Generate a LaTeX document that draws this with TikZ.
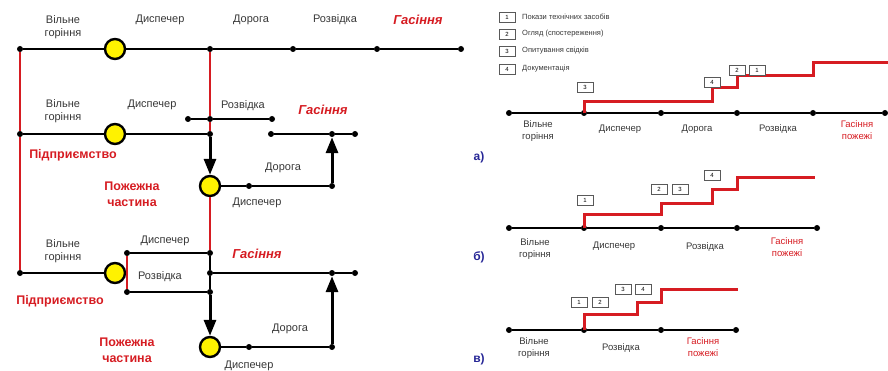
\documentclass[tikz,border=0pt]{standalone}
\usepackage{fontspec}
\setmainfont{Liberation Sans}
\usetikzlibrary{arrows.meta}
\definecolor{firered}{RGB}{214,28,34}
\definecolor{textgray}{RGB}{55,55,55}
\definecolor{markblue}{RGB}{38,38,150}
\begin{document}
\begin{tikzpicture}[x=1pt, y=-1pt,
  dot/.style={circle, fill=black, inner sep=0pt, minimum size=6pt},
  disp/.style={circle, draw=black, line width=2.4pt, fill=yellow, inner sep=0pt, minimum size=20pt},
  line/.style={line width=2.2pt},
  redline/.style={firered, line width=1.4pt},
  arrow/.style={line width=3pt, -{Triangle[length=16pt, width=12pt]}},
  redstep/.style={firered, line width=3pt},
  lbl/.style={text=textgray, font=\fontsize{11}{13}\selectfont, align=center, inner sep=0pt},
  smalllbl/.style={text=textgray, font=\fontsize{9.5}{12}\selectfont, align=center, inner sep=0pt},
  redlbl/.style={text=firered, font=\bfseries\fontsize{12.5}{16}\selectfont, align=center, inner sep=0pt},
  firelbl/.style={text=firered, font=\bfseries\itshape\fontsize{13}{15}\selectfont, inner sep=0pt},
  smallred/.style={text=firered, font=\fontsize{9.5}{12}\selectfont, align=center, inner sep=0pt},
  partlbl/.style={text=markblue, font=\bfseries\fontsize{12}{14}\selectfont, inner sep=0pt},
  numbox/.style={draw=black!65, line width=0.8pt, fill=white, minimum width=16pt, minimum height=10pt, inner sep=0pt, font=\fontsize{6}{6}\selectfont},
  legtext/.style={text=textgray, font=\fontsize{7.5}{9}\selectfont, anchor=west, inner sep=0pt}
]
\useasboundingbox (0,0) rectangle (888,371);

% left: first scheme
\node[dot] (a0) at (20,49) {};
\node[disp] (a1) at (115,49) {};
\node[dot] (a2) at (210,49) {};
\node[dot] (a3) at (293,49) {};
\node[dot] (a4) at (377,49) {};
\node[dot] (a5) at (461,49) {};
\node[lbl] (la0) at (63,27) {Вільне\\горіння};
\node[lbl] (la1) at (160,20) {Диспечер};
\node[lbl] (la2) at (251,20) {Дорога};
\node[lbl] (la3) at (335,20) {Розвідка};
\node[firelbl] (la4) at (418,20) {Гасіння};

% left: second scheme
\node[dot] (b0) at (20,134) {};
\node[disp] (b1) at (115,134) {};
\node[dot] (b2) at (210,134) {};
\node[dot] (r0) at (188,119) {};
\node[dot] (r1) at (210,119) {};
\node[dot] (r2) at (272,119) {};
\node[dot] (g0) at (271,134) {};
\node[dot] (g1) at (332,134) {};
\node[dot] (g2) at (355,134) {};
\node[disp] (c2) at (210,186) {};
\node[dot] (d1) at (249,186) {};
\node[dot] (d2) at (332,186) {};
\node[lbl] (lb0) at (63,111) {Вільне\\горіння};
\node[lbl] (lb1) at (152,105) {Диспечер};
\node[lbl] (lb2) at (243,106) {Розвідка};
\node[firelbl] (lb3) at (323,110) {Гасіння};
\node[redlbl] (lb4) at (73,155) {Підприємство};
\node[lbl] (lb5) at (283,168) {Дорога};
\node[lbl] (lb6) at (257,203) {Диспечер};
\node[redlbl] (lb7) at (132,194) {Пожежна\\частина};

% left: third scheme
\node[dot] (e0) at (20,273) {};
\node[disp] (e1) at (115,273) {};
\node[dot] (e2) at (210,273) {};
\node[dot] (f0) at (127,253) {};
\node[dot] (f1) at (210,253) {};
\node[dot] (h0) at (127,292) {};
\node[dot] (h1) at (210,292) {};
\node[dot] (k1) at (332,273) {};
\node[dot] (k2) at (355,273) {};
\node[disp] (c3) at (210,347) {};
\node[dot] (m1) at (249,347) {};
\node[dot] (m2) at (332,347) {};
\node[lbl] (lc0) at (63,251) {Вільне\\горіння};
\node[lbl] (lc1) at (165,241) {Диспечер};
\node[lbl] (lc2) at (160,277) {Розвідка};
\node[firelbl] (lc3) at (257,254) {Гасіння};
\node[redlbl] (lc4) at (60,301) {Підприємство};
\node[redlbl] (lc5) at (127,350) {Пожежна\\частина};
\node[lbl] (lc6) at (290,329) {Дорога};
\node[lbl] (lc7) at (249,366) {Диспечер};

\draw[redline] (a0) -- (b0) -- (e0);
\draw[redline] (a2) -- (r1) -- (b2);
\draw[redline] (c2) -- (f1);
\draw[redline, line width=2pt] (f0) -- (h0);
\draw[line] (a0) -- (a1) -- (a2) -- (a3) -- (a4) -- (a5);
\draw[line] (b0) -- (b1) -- (b2);
\draw[line] (r0) -- (r1) -- (r2);
\draw[line] (g0) -- (g1) -- (g2);
\draw[line] (c2) -- (d1) -- (d2);
\draw[arrow] (b2) -- (c2);
\draw[arrow] (d2) -- (g1);
\draw[line] (e0) -- (e1);
\draw[line] (f0) -- (f1);
\draw[line] (h0) -- (h1);
\draw[line] (f1) -- (e2) -- (h1);
\draw[line] (e2) -- (k1) -- (k2);
\draw[line] (c3) -- (m1) -- (m2);
\draw[arrow] (h1) -- (c3);
\draw[arrow] (m2) -- (k1);

% right: legend
\node[numbox] (q1) at (507,17) {1};
\node[numbox] (q2) at (507,34) {2};
\node[numbox] (q3) at (507,51) {3};
\node[numbox] (q4) at (507,69) {4};
\node[legtext] (t1) at (522,17) {Покази технічних засобів};
\node[legtext] (t2) at (522,34) {Огляд (спостереження)};
\node[legtext] (t3) at (522,51) {Опитування свідків};
\node[legtext] (t4) at (522,69) {Документація};

% right: a)
\node[dot] (pa0) at (509,113) {};
\node[dot] (pa1) at (584,113) {};
\node[dot] (pa2) at (661,113) {};
\node[dot] (pa3) at (737,113) {};
\node[dot] (pa4) at (813,113) {};
\node[dot] (pa5) at (885,113) {};
\draw[line] (pa0) -- (pa1) -- (pa2) -- (pa3) -- (pa4) -- (pa5);
\draw[redstep] (pa1.center) |- (712,102) |- (737,88) |- (813,76) |- (888,63);
\node[numbox] (na3) at (585,87) {3};
\node[numbox] (na4) at (712,82) {4};
\node[numbox] (na2) at (737,70) {2};
\node[numbox] (na1) at (757,70) {1};
\node[smalllbl] (sa0) at (538,131) {Вільне\\горіння};
\node[smalllbl] (sa1) at (620,129) {Диспечер};
\node[smalllbl] (sa2) at (697,129) {Дорога};
\node[smalllbl] (sa3) at (778,129) {Розвідка};
\node[smallred] (sa4) at (857,130) {Гасіння\\пожежі};
\node[partlbl] (ma) at (479,157) {а)};

% right: b)
\node[dot] (pb0) at (509,228) {};
\node[dot] (pb1) at (584,228) {};
\node[dot] (pb2) at (661,228) {};
\node[dot] (pb3) at (737,228) {};
\node[dot] (pb4) at (817,228) {};
\draw[line] (pb0) -- (pb1) -- (pb2) -- (pb3) -- (pb4);
\draw[redstep] (pb1.center) |- (661,215) |- (712,204) |- (737,190) |- (815,178);
\node[numbox] (nb1) at (585,200) {1};
\node[numbox] (nb2) at (659,189) {2};
\node[numbox] (nb3) at (680,189) {3};
\node[numbox] (nb4) at (712,175) {4};
\node[smalllbl] (sb0) at (535,249) {Вільне\\горіння};
\node[smalllbl] (sb1) at (614,246) {Диспечер};
\node[smalllbl] (sb2) at (705,247) {Розвідка};
\node[smallred] (sb3) at (787,247) {Гасіння\\пожежі};
\node[partlbl] (mb) at (479,257) {б)};

% right: c)
\node[dot] (pc0) at (509,330) {};
\node[dot] (pc1) at (584,330) {};
\node[dot] (pc2) at (661,330) {};
\node[dot] (pc3) at (736,330) {};
\draw[line] (pc0) -- (pc1) -- (pc2) -- (pc3);
\draw[redstep] (pc1.center) |- (637,314) |- (661,302) |- (738,289);
\node[numbox] (nc1) at (579,302) {1};
\node[numbox] (nc2) at (600,302) {2};
\node[numbox] (nc3) at (623,289) {3};
\node[numbox] (nc4) at (643,289) {4};
\node[smalllbl] (sc0) at (534,348) {Вільне\\горіння};
\node[smalllbl] (sc1) at (621,348) {Розвідка};
\node[smallred] (sc2) at (703,347) {Гасіння\\пожежі};
\node[partlbl] (mc) at (479,359) {в)};
\end{tikzpicture}
\end{document}
